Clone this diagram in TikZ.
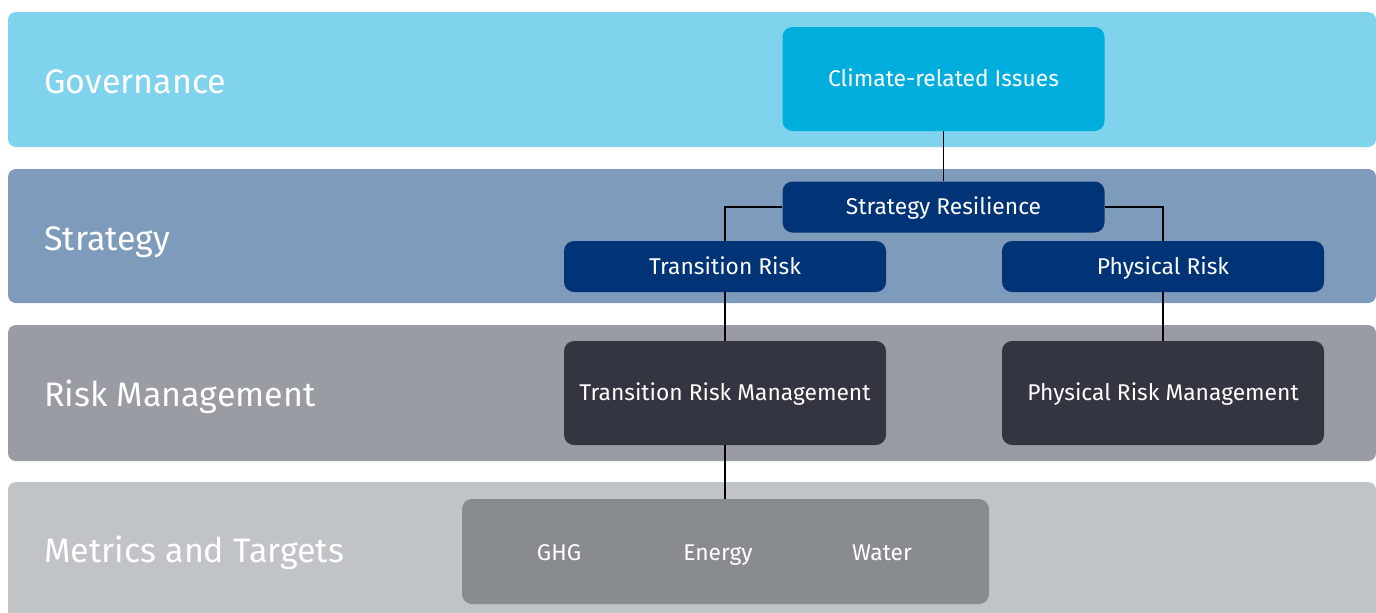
\documentclass[tikz,border=0pt]{standalone}
\usepackage{fontspec}
\setmainfont{Fira Sans}
\usetikzlibrary{positioning}

\definecolor{govband}{HTML}{7FD3EC}
\definecolor{govbox}{HTML}{00AEDD}
\definecolor{strband}{HTML}{7F9BBC}
\definecolor{strbox}{HTML}{003476}
\definecolor{riskband}{HTML}{9A9CA4}
\definecolor{riskbox}{HTML}{333641}
\definecolor{metband}{HTML}{C0C4C7}
\definecolor{metbox}{HTML}{888C90}

\begin{document}
\begin{tikzpicture}[
		  x=0.5pt, y=-0.5pt,
		  band/.style={rounded corners=4pt},
		  bandlabel/.style={anchor=base west, text=white, font=\fontsize{17}{19}\selectfont, inner sep=0pt},
		  box/.style={rounded corners=5pt, align=center, text=white, font=\fontsize{11.4}{13}\selectfont,
		    inner sep=0pt, text height=10pt, text depth=2.1pt},
		  tall/.style={box, minimum width=161pt, minimum height=52pt},
		  flat/.style={box, minimum width=161pt, minimum height=25.5pt},
		  item/.style={box, rounded corners=0pt},
		  link/.style={draw=black, line width=0.7pt}
		]
		\clip (0,0) rectangle (1376,612);
		% bands
		\fill[band, govband]   (8,12)  rectangle (1376,147);
		\fill[band, strband]   (8,169) rectangle (1376,303);
		\fill[band, riskband]  (8,325) rectangle (1376,461);
		\fill[band, metband]   (8,482) rectangle (1376,640);
		\node[bandlabel] (l_gov)  at (44,93)  {Governance};
		\node[bandlabel] (l_str)  at (44,250) {Strategy};
		\node[bandlabel] (l_risk) at (44,406) {Risk Management};
		\node[bandlabel] (l_met)  at (44,562) {Metrics and Targets};
		
		% boxes
		\node[tall, fill=govbox]  (climate)   at (943.5,79)   {Climate-related Issues};
		\node[flat, fill=strbox]  (stratres)  at (943.5,207)  {Strategy Resilience};
		\node[flat, fill=strbox]  (transrisk) at (725,266.5)  {Transition Risk};
		\node[flat, fill=strbox]  (physrisk)  at (1163,266.5) {Physical Risk};
		\node[tall, fill=riskbox] (transmgmt) at (725,393)    {Transition Risk Management};
		\node[tall, fill=riskbox] (physmgmt)  at (1163,393)   {Physical Risk Management};
		\node[box, fill=metbox, minimum width=263.5pt, minimum height=52.5pt] (metrics) at (725.5,551.5) {};
		\node[item] (m_ghg)    at (559,553) {GHG};
		\node[item] (m_energy) at (718,553) {Energy};
		\node[item] (m_water)  at (882,553) {Water};
		
		% connectors
		\draw[link] (climate) -- (stratres);
		\draw[link] (stratres.west) -| (transrisk.north);
		\draw[link] (stratres.east) -| (physrisk.north);
		\draw[link] (transrisk) -- (transmgmt);
		\draw[link] (physrisk) -- (physmgmt);
		\draw[link] (transmgmt.south) -- (transmgmt.south |- metrics.north);
		\end{tikzpicture}
\end{document}
